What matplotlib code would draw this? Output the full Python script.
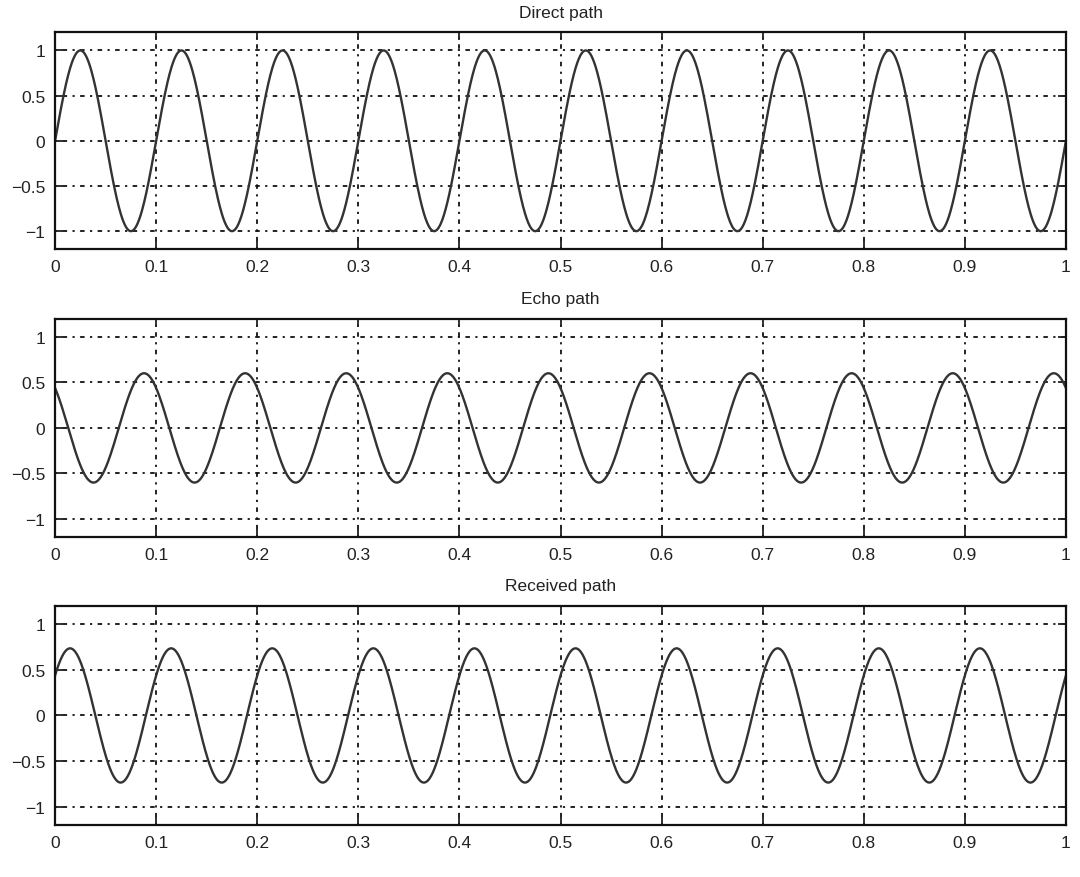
import numpy as np
import matplotlib
matplotlib.use("Agg")
import matplotlib.pyplot as plt

plt.rcParams['font.family'] = ['Liberation Sans', 'DejaVu Sans']

# Signal parameters
titles = ["Direct path", "Echo path", "Received path"]
freq_hz = 10.0          # 10 cycles over 0..1 s
direct_amp = 1.0
echo_amp = 0.6
echo_delay = 0.063      # seconds
xticks = [0, 0.1, 0.2, 0.3, 0.4, 0.5, 0.6, 0.7, 0.8, 0.9, 1]
xticklabels = ["0", "0.1", "0.2", "0.3", "0.4", "0.5", "0.6", "0.7", "0.8", "0.9", "1"]
yticks = [-1, -0.5, 0, 0.5, 1]
yticklabels = ["\u22121", "\u22120.5", "0", "0.5", "1"]

t = np.linspace(0, 1, 2001)
direct = direct_amp * np.sin(2 * np.pi * freq_hz * t)
echo = echo_amp * np.sin(2 * np.pi * freq_hz * (t - echo_delay))
received = direct + echo
signals = [direct, echo, received]

fig = plt.figure(figsize=(10.8, 8.78), dpi=100)
boxes = [(0.051, 0.715, 0.936, 0.247),
         (0.051, 0.387, 0.936, 0.249),
         (0.051, 0.059, 0.936, 0.250)]

for box, title, sig in zip(boxes, titles, signals):
    ax = fig.add_axes(box)
    ax.plot(t, sig, color='#333333', lw=1.7)
    ax.set_xlim(0, 1)
    ax.set_ylim(-1.2, 1.2)
    ax.set_xticks(xticks)
    ax.set_xticklabels(xticklabels)
    ax.set_yticks(yticks)
    ax.set_yticklabels(yticklabels)
    ax.tick_params(direction='in', length=6, width=1.3, labelsize=12.5,
                   top=True, right=True, colors='#222222', pad=7)
    ax.grid(True, linestyle=(0, (1.2, 3, 2.5, 3)), color='#111111', lw=1.3)
    for s in ax.spines.values():
        s.set_linewidth(1.6)
        s.set_color('#111111')
    ax.set_title(title, fontsize=12.5, color='#222222', pad=11)

fig.savefig("out.png", dpi=100)
